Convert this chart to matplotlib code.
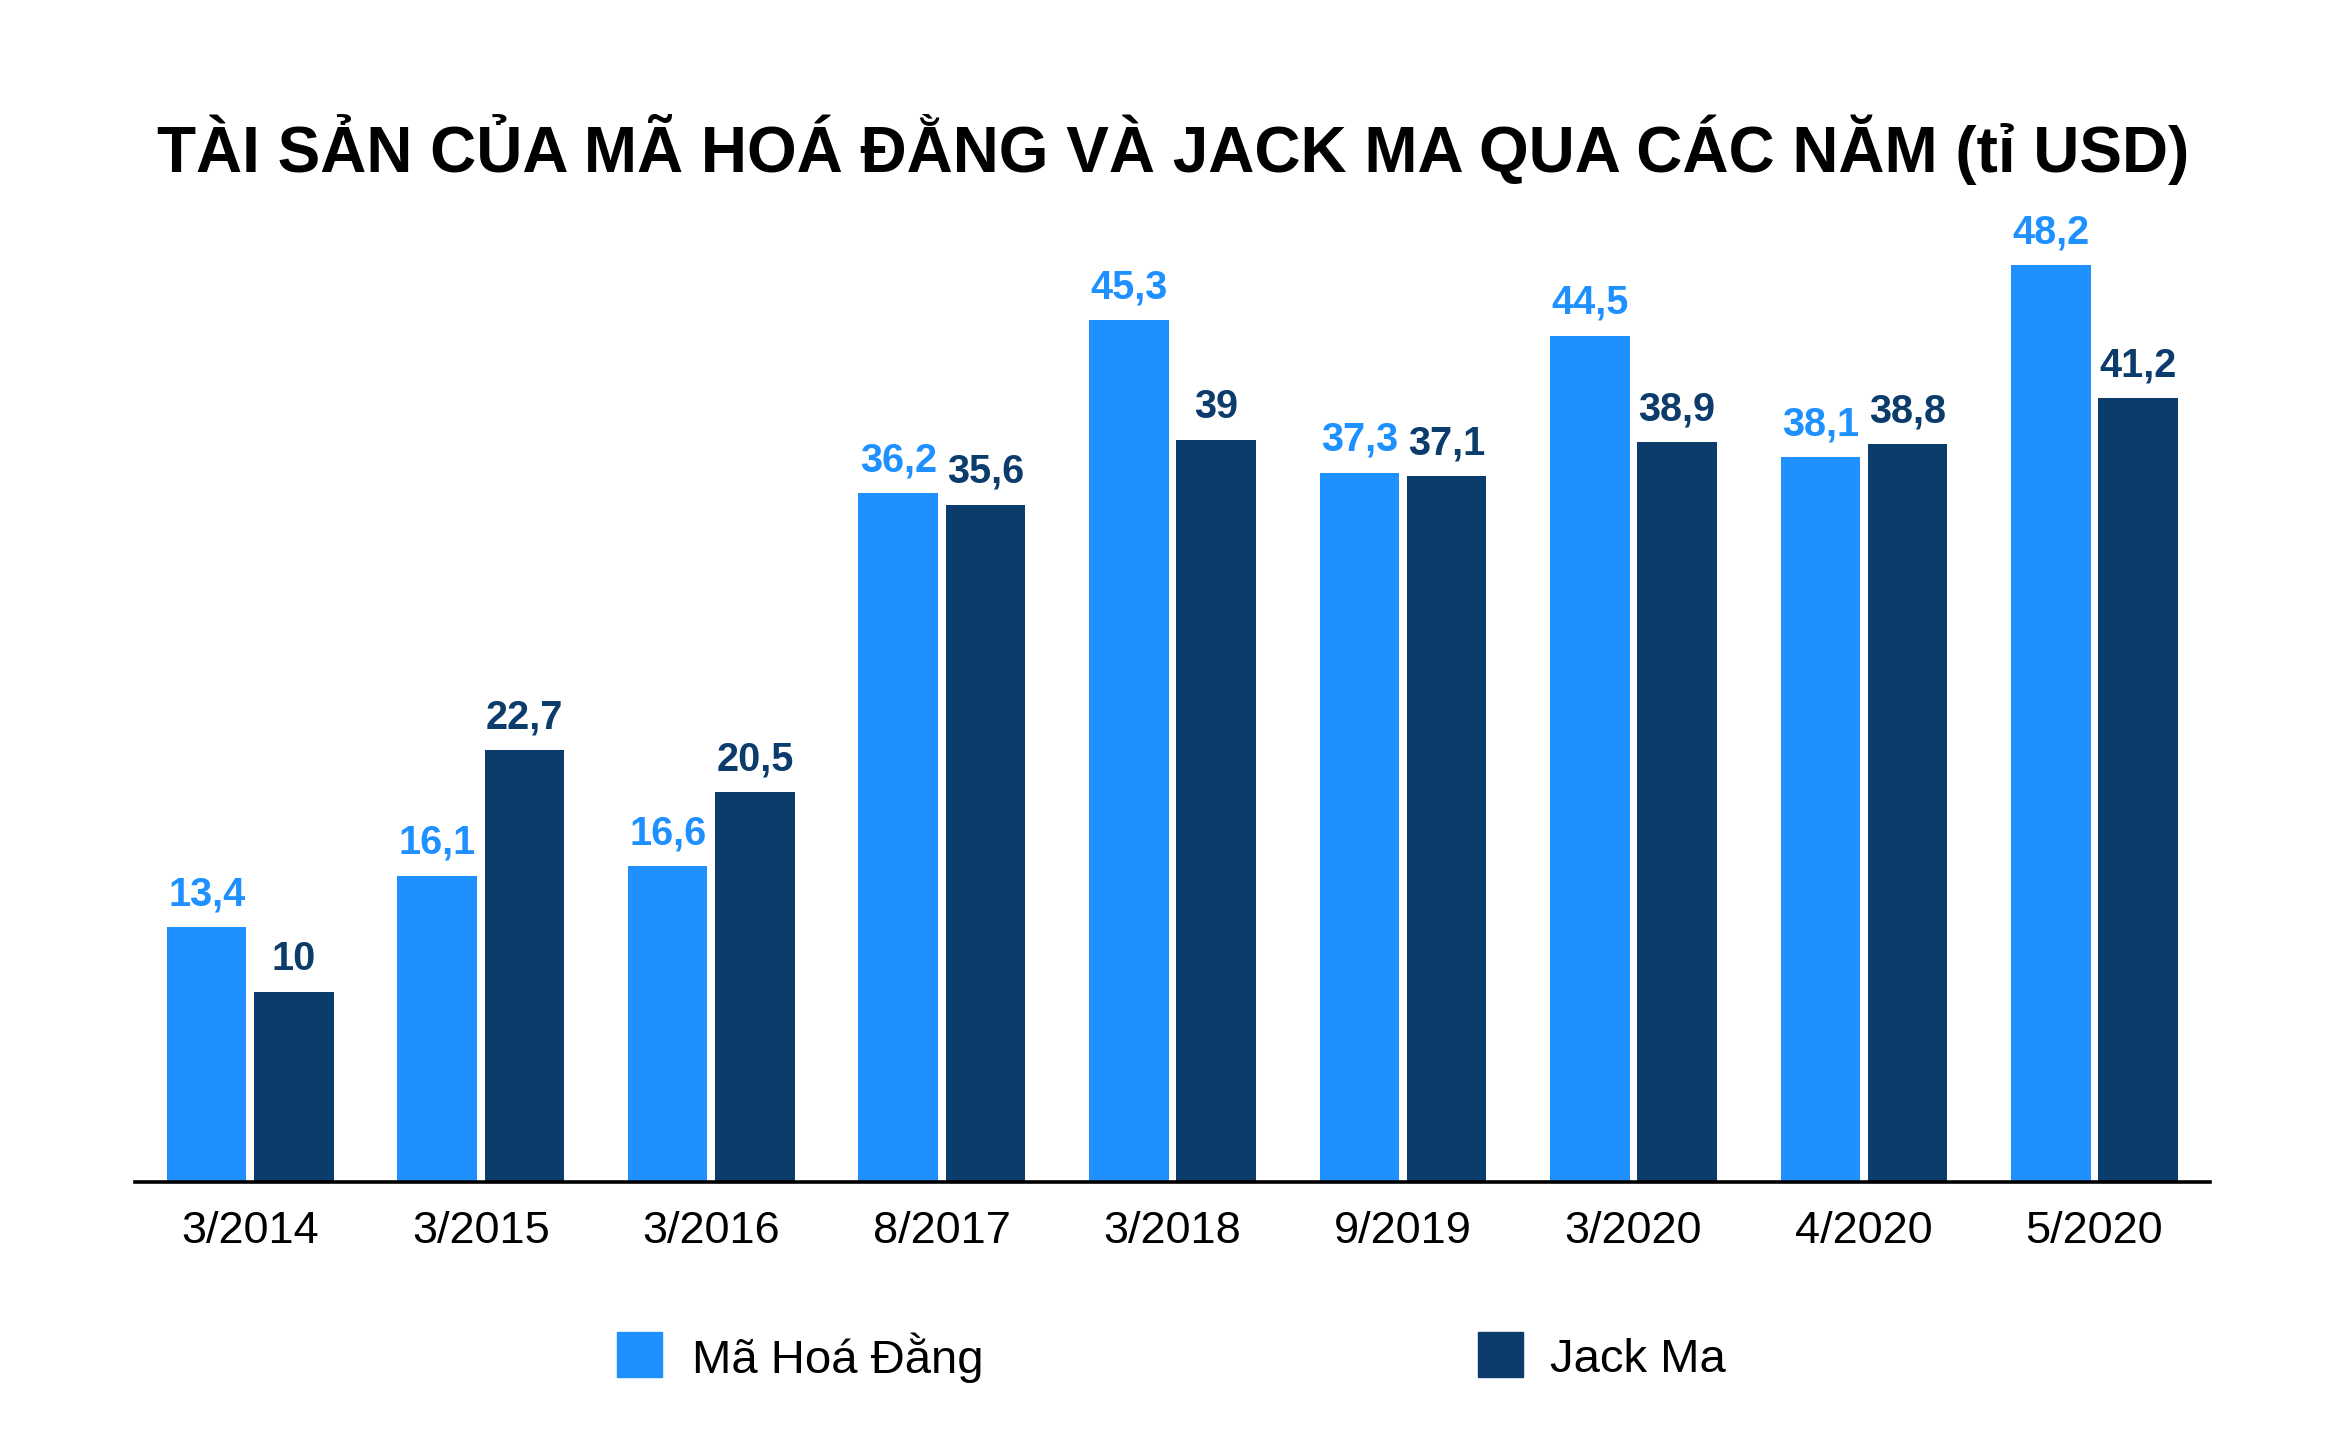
import matplotlib
matplotlib.use("Agg")
import matplotlib.pyplot as plt
import numpy as np
from matplotlib.patches import Rectangle

categories = ["3/2014", "3/2015", "3/2016", "8/2017", "3/2018", "9/2019", "3/2020", "4/2020", "5/2020"]
ma_hoa_dang = [13.4, 16.1, 16.6, 36.2, 45.3, 37.3, 44.5, 38.1, 48.2]
jack_ma = [10, 22.7, 20.5, 35.6, 39, 37.1, 38.9, 38.8, 41.2]
series_names = ["Mã Hoá Đằng", "Jack Ma"]
title = "TÀI SẢN CỦA MÃ HOÁ ĐẰNG VÀ JACK MA QUA CÁC NĂM (tỉ USD)"

c_blue = "#1E90FF"
c_dark = "#0C3C6C"

plt.rcParams['font.family'] = ['Liberation Sans', 'DejaVu Sans']

fig = plt.figure(figsize=(23.36, 14.4), dpi=100)
ax = fig.add_axes([0.0578, 0.1792, 0.8881, 0.6604])

x = np.arange(len(categories))
w = 0.345
off = 0.189
b1 = ax.bar(x - off, ma_hoa_dang, width=w, color=c_blue)
b2 = ax.bar(x + off, jack_ma, width=w, color=c_dark)

def fmt(v):
    s = f"{v:g}"
    return s.replace(".", ",")

for rect, v in zip(b1, ma_hoa_dang):
    ax.annotate(fmt(v), (rect.get_x() + rect.get_width() / 2, v), xytext=(0, 10),
                textcoords="offset points", ha="center", va="bottom",
                fontsize=28.5, fontweight="bold", color=c_blue)
for rect, v in zip(b2, jack_ma):
    ax.annotate(fmt(v), (rect.get_x() + rect.get_width() / 2, v), xytext=(0, 10),
                textcoords="offset points", ha="center", va="bottom",
                fontsize=28.5, fontweight="bold", color=c_dark)

ax.set_xlim(-0.5, 8.5)
ax.set_ylim(0, 50)
ax.set_xticks(x)
ax.set_xticklabels(categories, fontsize=32.5)
ax.tick_params(axis="x", length=0, pad=21)
ax.set_yticks([])
for s in ["top", "left", "right"]:
    ax.spines[s].set_visible(False)
ax.spines["bottom"].set_linewidth(2.6)
ax.spines["bottom"].set_color("black")

fig.text(0.502, 0.896, title, ha="center", va="center", fontsize=46, fontweight="bold")

# legend
sq_w = 45 / 2336
sq_h = 45 / 1440
ly = 1 - 918 / 960
fig.patches.append(Rectangle((411 * 1.5 / 2336, ly), sq_w, sq_h, transform=fig.transFigure,
                             color=c_blue, figure=fig))
fig.patches.append(Rectangle((985 * 1.5 / 2336, ly), sq_w, sq_h, transform=fig.transFigure,
                             color=c_dark, figure=fig))
fig.text(461 * 1.5 / 2336, ly + sq_h / 2 - 0.002, series_names[0], ha="left", va="center", fontsize=34)
fig.text(1033 * 1.5 / 2336, ly + sq_h / 2 - 0.004, series_names[1], ha="left", va="center", fontsize=34)

fig.savefig("out.png", dpi=100, facecolor="white")
